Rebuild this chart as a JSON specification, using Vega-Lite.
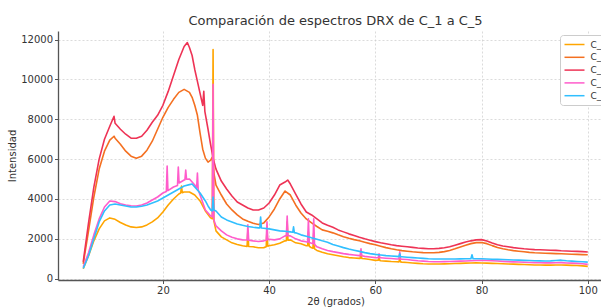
{
"$schema": "https://vega.github.io/schema/vega-lite/v6.json",
"width": 555, "height": 249,
"autosize": {"type": "none"},
"padding": {"left": 58, "top": 31, "right": 0, "bottom": 28},
"background": "white",
"title": {"text": "Comparación de espectros DRX de C_1 a C_5", "font": "DejaVu Sans", "fontSize": 13, "fontWeight": "normal", "color": "#333333", "offset": 3},
"config": {
  "view": {"stroke": null},
  "axis": {"labelFont": "DejaVu Sans", "labelFontSize": 10, "labelColor": "#333333", "titleFont": "DejaVu Sans", "titleFontSize": 10, "titleFontWeight": "normal", "titleColor": "#333333", "domainColor": "#555555", "domainWidth": 1.3, "tickColor": "#555555", "tickSize": 3.5, "gridColor": "#cccccc", "gridDash": [2, 2], "gridWidth": 0.7, "labelPadding": 2}
},
"data": {"values": [
{"x":5,"C_1":500,"C_2":750,"C_3":850,"C_4":600,"C_5":520},
{"x":6,"C_1":1150,"C_2":2400,"C_3":2800,"C_4":1300,"C_5":1150},
{"x":7,"C_1":1900,"C_2":4100,"C_3":4600,"C_4":2200,"C_5":2000},
{"x":8,"C_1":2500,"C_2":5500,"C_3":6000,"C_4":3000,"C_5":2850},
{"x":9,"C_1":2900,"C_2":6400,"C_3":7000,"C_4":3600,"C_5":3400},
{"x":10,"C_1":3050,"C_2":6950,"C_3":7650,"C_4":3900,"C_5":3700},
{"x":10.8,"C_2":7150,"C_3":8150},
{"x":11,"C_1":2980,"C_2":7050,"C_3":7800,"C_4":3870,"C_5":3750},
{"x":12,"C_1":2820,"C_2":6750,"C_3":7500,"C_4":3760,"C_5":3700},
{"x":13,"C_1":2700,"C_2":6400,"C_3":7250,"C_4":3700,"C_5":3650},
{"x":14,"C_1":2600,"C_2":6150,"C_3":7050,"C_4":3660,"C_5":3600},
{"x":15,"C_1":2570,"C_2":6050,"C_3":7050,"C_4":3650,"C_5":3600},
{"x":16,"C_1":2600,"C_2":6150,"C_3":7150,"C_4":3700,"C_5":3640},
{"x":17,"C_1":2700,"C_2":6450,"C_3":7450,"C_4":3800,"C_5":3700},
{"x":18,"C_1":2850,"C_2":6900,"C_3":7850,"C_4":3950,"C_5":3800},
{"x":19,"C_1":3050,"C_2":7500,"C_3":8200,"C_4":4100,"C_5":3900},
{"x":20,"C_1":3350,"C_2":8100,"C_3":8700,"C_4":4300,"C_5":4050},
{"x":20.65,"C_4":4380},
{"x":20.8,"C_4":5650},
{"x":20.95,"C_4":4420},
{"x":21,"C_1":3700,"C_2":8600,"C_3":9400,"C_5":4200},
{"x":22,"C_1":4000,"C_2":9000,"C_3":10200,"C_4":4600,"C_5":4350},
{"x":22.75,"C_4":4680},
{"x":22.9,"C_4":5600},
{"x":23,"C_1":4250,"C_2":9350,"C_3":11000,"C_5":4500},
{"x":23.05,"C_4":4800},
{"x":23.35,"C_1":4300},
{"x":23.5,"C_1":4650},
{"x":23.65,"C_1":4320},
{"x":24,"C_1":4350,"C_2":9500,"C_3":11650,"C_4":4950,"C_5":4650},
{"x":24.15,"C_4":4970},
{"x":24.3,"C_4":5450},
{"x":24.45,"C_4":4990},
{"x":24.6,"C_3":11850},
{"x":25,"C_1":4350,"C_2":9350,"C_3":11600,"C_4":5000,"C_5":4720},
{"x":25.5,"C_2":9100,"C_3":11200,"C_5":4750},
{"x":26,"C_1":4200,"C_2":8700,"C_3":10500,"C_4":4700,"C_5":4600},
{"x":26.35,"C_4":4550},
{"x":26.5,"C_2":8200,"C_3":9900,"C_4":5300},
{"x":26.65,"C_4":4450},
{"x":27,"C_1":3900,"C_2":7300,"C_3":9300,"C_4":4200,"C_5":4300},
{"x":27.5,"C_2":6500,"C_3":8700},
{"x":27.7,"C_3":9400},
{"x":27.9,"C_3":8400},
{"x":28,"C_1":3400,"C_2":6050,"C_4":3450,"C_5":3900},
{"x":28.5,"C_2":5850,"C_3":7500,"C_5":3650},
{"x":29,"C_1":3050,"C_2":5950,"C_3":6700,"C_4":3150,"C_5":3450},
{"x":29.3,"C_1":3000,"C_2":6100,"C_4":3100,"C_5":3400},
{"x":29.45,"C_1":11500,"C_4":9750,"C_5":4100},
{"x":29.5,"C_3":6000},
{"x":29.6,"C_1":2900,"C_2":5300,"C_4":2950,"C_5":3450},
{"x":30,"C_1":2400,"C_2":4700,"C_3":5500,"C_4":2650,"C_5":3400},
{"x":31,"C_1":2100,"C_2":4200,"C_3":4900,"C_4":2400,"C_5":3100},
{"x":32,"C_1":1950,"C_2":3750,"C_3":4500,"C_4":2200,"C_5":2950},
{"x":33,"C_1":1800,"C_2":3450,"C_3":4150,"C_4":2080,"C_5":2850},
{"x":34,"C_1":1720,"C_2":3200,"C_3":3850,"C_4":2000,"C_5":2750},
{"x":35,"C_1":1650,"C_2":3000,"C_3":3700,"C_4":1950,"C_5":2680},
{"x":35.85,"C_1":1620,"C_4":1940},
{"x":36,"C_1":2400,"C_2":2880,"C_3":3550,"C_4":2700,"C_5":2620},
{"x":36.15,"C_1":1615,"C_4":1935},
{"x":37,"C_1":1600,"C_2":2780,"C_3":3450,"C_4":1900,"C_5":2580},
{"x":38,"C_1":1550,"C_2":2720,"C_3":3450,"C_4":1870,"C_5":2550},
{"x":38.25,"C_5":2550},
{"x":38.4,"C_5":3100},
{"x":38.55,"C_5":2545},
{"x":39,"C_1":1560,"C_2":2800,"C_3":3550,"C_4":1900,"C_5":2530},
{"x":39.45,"C_1":1600,"C_4":1930},
{"x":39.6,"C_1":2450,"C_4":2850},
{"x":39.75,"C_1":1630,"C_4":1960},
{"x":40,"C_1":1650,"C_2":3100,"C_3":3800,"C_4":1980,"C_5":2500},
{"x":41,"C_1":1700,"C_2":3500,"C_3":4200,"C_4":1950,"C_5":2450},
{"x":42,"C_1":1780,"C_2":4000,"C_3":4700,"C_4":2000,"C_5":2400},
{"x":43,"C_1":1900,"C_2":4400,"C_3":4850,"C_4":2150,"C_5":2380},
{"x":43.25,"C_1":1910,"C_4":2150},
{"x":43.4,"C_1":2850,"C_4":3150},
{"x":43.55,"C_1":1930,"C_4":2160},
{"x":43.5,"C_3":4950},
{"x":44,"C_1":1950,"C_2":4200,"C_3":4750,"C_4":2150,"C_5":2350},
{"x":44.45,"C_5":2330},
{"x":44.6,"C_5":2600},
{"x":44.75,"C_5":2310},
{"x":45,"C_1":1800,"C_2":3700,"C_3":4250,"C_4":2000,"C_5":2300},
{"x":46,"C_1":1750,"C_2":3300,"C_3":3750,"C_4":1900,"C_5":2200},
{"x":47,"C_1":1650,"C_2":3000,"C_3":3350,"C_4":1850,"C_5":2130},
{"x":47.25,"C_1":1650,"C_4":1840},
{"x":47.4,"C_1":2350,"C_4":3000},
{"x":47.55,"C_1":1630,"C_4":1820},
{"x":48,"C_1":1550,"C_2":2800,"C_3":3200,"C_4":1780,"C_5":2050},
{"x":48.25,"C_1":1530,"C_4":1760},
{"x":48.4,"C_1":2300,"C_4":3000},
{"x":48.55,"C_1":1500,"C_4":1720},
{"x":49,"C_1":1420,"C_2":2620,"C_3":3000,"C_4":1600,"C_5":1980},
{"x":50,"C_1":1330,"C_2":2450,"C_3":2800,"C_4":1500,"C_5":1900},
{"x":51,"C_1":1250,"C_2":2380,"C_3":2680,"C_4":1420,"C_5":1830},
{"x":52,"C_1":1200,"C_2":2300,"C_3":2580,"C_4":1360,"C_5":1720},
{"x":53,"C_1":1150,"C_2":2200,"C_3":2450,"C_4":1310,"C_5":1640},
{"x":54,"C_1":1100,"C_2":2110,"C_3":2350,"C_4":1260,"C_5":1560},
{"x":55,"C_1":1060,"C_2":2030,"C_3":2250,"C_4":1220,"C_5":1490},
{"x":56,"C_1":1040,"C_2":1960,"C_3":2170,"C_4":1190,"C_5":1430},
{"x":57,"C_1":1020,"C_2":1900,"C_3":2080,"C_4":1160,"C_5":1370},
{"x":57.15,"C_1":1020,"C_4":1160},
{"x":57.3,"C_1":1350,"C_4":1500},
{"x":57.45,"C_1":1015,"C_4":1155},
{"x":58,"C_1":1000,"C_2":1830,"C_3":2000,"C_4":1120,"C_5":1310},
{"x":59,"C_1":960,"C_2":1760,"C_3":1930,"C_4":1090,"C_5":1260},
{"x":60,"C_1":920,"C_2":1700,"C_3":1860,"C_4":1060,"C_5":1220},
{"x":60.55,"C_1":925,"C_4":1055},
{"x":60.7,"C_1":1080,"C_4":1250},
{"x":60.85,"C_1":915,"C_4":1052},
{"x":61,"C_1":900,"C_2":1630,"C_3":1800,"C_4":1050,"C_5":1190},
{"x":62,"C_1":880,"C_2":1560,"C_3":1750,"C_4":1030,"C_5":1160},
{"x":63,"C_1":860,"C_2":1500,"C_3":1700,"C_4":1010,"C_5":1140},
{"x":64,"C_1":850,"C_2":1450,"C_3":1660,"C_4":990,"C_5":1120},
{"x":64.45,"C_1":845,"C_4":990,"C_5":1110},
{"x":64.6,"C_1":1050,"C_4":1350,"C_5":1250},
{"x":64.75,"C_1":840,"C_4":985,"C_5":1105},
{"x":65,"C_1":830,"C_2":1410,"C_3":1630,"C_4":980,"C_5":1100},
{"x":66,"C_1":810,"C_2":1380,"C_3":1600,"C_4":960,"C_5":1080},
{"x":67,"C_1":790,"C_2":1350,"C_3":1570,"C_4":930,"C_5":1060},
{"x":68,"C_1":770,"C_2":1330,"C_3":1540,"C_4":900,"C_5":1040},
{"x":69,"C_1":750,"C_2":1310,"C_3":1520,"C_4":880,"C_5":1020},
{"x":70,"C_1":740,"C_2":1300,"C_3":1500,"C_4":860,"C_5":1000},
{"x":71,"C_1":740,"C_2":1300,"C_3":1500,"C_4":850,"C_5":990},
{"x":72,"C_1":740,"C_2":1320,"C_3":1520,"C_4":850,"C_5":990},
{"x":73,"C_1":745,"C_2":1360,"C_3":1550,"C_4":855,"C_5":990},
{"x":74,"C_1":750,"C_2":1420,"C_3":1600,"C_4":860,"C_5":990},
{"x":75,"C_1":760,"C_2":1500,"C_3":1680,"C_4":870,"C_5":990},
{"x":76,"C_1":770,"C_2":1590,"C_3":1760,"C_4":880,"C_5":995},
{"x":77,"C_1":780,"C_2":1680,"C_3":1840,"C_4":890,"C_5":1000},
{"x":78,"C_1":790,"C_2":1760,"C_3":1900,"C_4":900,"C_5":1000},
{"x":78.2,"C_5":1200},
{"x":78.4,"C_5":1000},
{"x":79,"C_1":795,"C_2":1810,"C_3":1950,"C_4":910,"C_5":1000},
{"x":80,"C_1":790,"C_2":1820,"C_3":1960,"C_4":920,"C_5":1000},
{"x":81,"C_1":780,"C_2":1760,"C_3":1890,"C_4":910,"C_5":990},
{"x":82,"C_1":770,"C_2":1660,"C_3":1790,"C_4":900,"C_5":980},
{"x":83,"C_1":760,"C_2":1570,"C_3":1700,"C_4":885,"C_5":970},
{"x":84,"C_1":750,"C_2":1500,"C_3":1640,"C_4":870,"C_5":960},
{"x":85,"C_1":740,"C_2":1450,"C_3":1600,"C_4":855,"C_5":950},
{"x":86,"C_1":730,"C_2":1410,"C_3":1560,"C_4":845,"C_5":940},
{"x":87,"C_1":720,"C_2":1380,"C_3":1530,"C_4":835,"C_5":930},
{"x":88,"C_1":710,"C_2":1350,"C_3":1500,"C_4":825,"C_5":920},
{"x":89,"C_1":700,"C_2":1320,"C_3":1480,"C_4":815,"C_5":910},
{"x":90,"C_1":690,"C_2":1300,"C_3":1460,"C_4":805,"C_5":900},
{"x":91,"C_1":685,"C_2":1290,"C_3":1450,"C_4":800,"C_5":895},
{"x":92,"C_1":680,"C_2":1280,"C_3":1440,"C_4":795,"C_5":890},
{"x":93,"C_1":680,"C_2":1270,"C_3":1430,"C_4":795,"C_5":895},
{"x":94,"C_1":685,"C_2":1260,"C_3":1420,"C_4":800,"C_5":910},
{"x":95,"C_1":690,"C_2":1250,"C_3":1400,"C_4":805,"C_5":930},
{"x":96,"C_1":680,"C_2":1240,"C_3":1390,"C_4":790,"C_5":900},
{"x":97,"C_1":670,"C_2":1230,"C_3":1380,"C_4":780,"C_5":880},
{"x":98,"C_1":660,"C_2":1220,"C_3":1370,"C_4":770,"C_5":865},
{"x":99,"C_1":645,"C_2":1210,"C_3":1360,"C_4":750,"C_5":850},
{"x":100,"C_1":620,"C_2":1200,"C_3":1340,"C_4":720,"C_5":830}
]},
"transform": [
  {"fold": ["C_1", "C_2", "C_3", "C_4", "C_5"], "as": ["serie", "y"]},
  {"filter": "isValid(datum.y)"}
],
"mark": {"type": "line", "strokeWidth": 1.6, "strokeJoin": "round"},
"encoding": {
  "x": {"field": "x", "type": "quantitative", "scale": {"domain": [0.25, 104.75], "nice": false, "zero": false}, "axis": {"values": [20, 40, 60, 80, 100], "title": "2θ (grados)", "titlePadding": 1}},
  "y": {"field": "y", "type": "quantitative", "scale": {"domain": [-65, 12430], "nice": false}, "axis": {"values": [0, 2000, 4000, 6000, 8000, 10000, 12000], "format": "d", "title": "Intensidad", "titlePadding": 3}},
  "color": {"field": "serie", "type": "nominal",
    "scale": {"domain": ["C_1", "C_2", "C_3", "C_4", "C_5"], "range": ["#FFA500", "#F47021", "#EE3355", "#FF5CCB", "#30BFFF"]},
    "legend": {"orient": "none", "legendX": 502, "legendY": 4, "title": null, "symbolType": "M-1,0H3", "symbolSize": 100, "symbolStrokeWidth": 1.5, "labelFont": "DejaVu Sans", "labelFontSize": 9, "labelColor": "#333333", "fillColor": "white", "strokeColor": "#cccccc", "cornerRadius": 3, "padding": 3.5, "rowPadding": 1.8, "labelOffset": 15}
  }
}
}
